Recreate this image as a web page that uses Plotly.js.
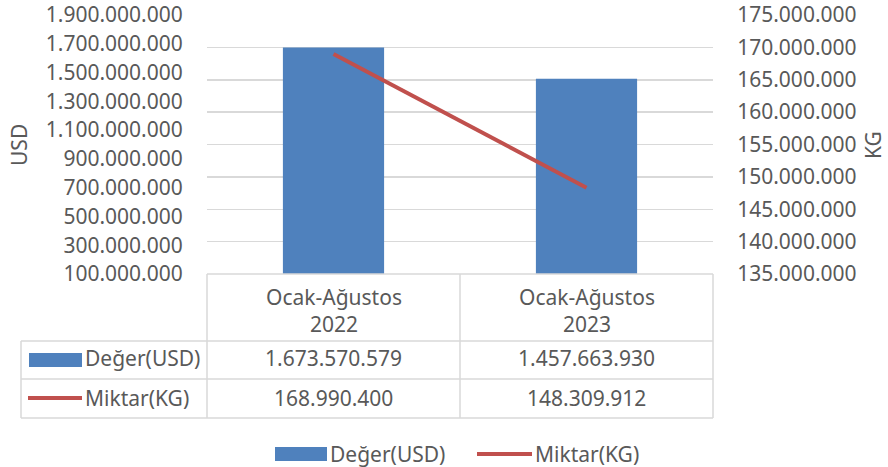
<!DOCTYPE html>
<html><head><meta charset="utf-8">
<script src="https://cdn.plot.ly/plotly-3.0.1.min.js"></script>
<style>html,body{margin:0;padding:0;background:#fff}#chart{width:888px;height:467px}</style>
</head><body><div id="chart"></div>
<script>
// ---- data ----
const categories = ["Ocak-Ağustos 2022", "Ocak-Ağustos 2023"];
const categoryLines = [["Ocak-Ağustos", "2022"], ["Ocak-Ağustos", "2023"]];
const valueUSD = [1673570579, 1457663930];
const amountKG = [168990400, 148309912];
const seriesNames = ["Değer(USD)", "Miktar(KG)"];
const axisTitles = ["USD", "KG"];

// ---- layout helpers (pixels -> paper) ----
const W = 888, H = 467;
const L = 207, R = 713, T = 15, B = 274;
const px = x => (x - L) / (R - L);
const py = y => (B - y) / (B - T);
const fmt = n => String(Math.round(n)).replace(/\B(?=(\d{3})+(?!\d))/g, ".");
const FONT = "'Noto Sans', 'Open Sans', sans-serif";
const FS = 21;
const TXT = "#595959";
const GRID = "#d9d9d9";
const BLUE = "#4f81bd";
const RED = "#c0504d";

const traces = [
  {type: "bar", x: categories, y: valueUSD, name: seriesNames[0], marker: {color: BLUE}, width: 0.4, yaxis: "y", hoverinfo: "none"},
  {type: "scatter", mode: "lines", x: categories, y: amountKG, name: seriesNames[1], line: {color: RED, width: 4}, yaxis: "y2", hoverinfo: "none"}
];

const shapes = [];
const line = (x0, y0, x1, y1) => shapes.push({type: "line", xref: "paper", yref: "paper", x0: px(x0), y0: py(y0), x1: px(x1), y1: py(y1), line: {color: GRID, width: 1.5}, layer: "above"});
// table grid
line(207, 274, 713, 274);
line(21, 341, 713, 341);
line(21, 379, 713, 379);
line(21, 418, 713, 418);
line(21, 341, 21, 418);
line(207, 274, 207, 418);
line(460, 274, 460, 418);
line(713, 274, 713, 418);
// legend keys in table
shapes.push({type: "rect", xref: "paper", yref: "paper", x0: px(29), x1: px(82), y0: py(353), y1: py(367), fillcolor: BLUE, line: {width: 0}});
shapes.push({type: "line", xref: "paper", yref: "paper", x0: px(28), x1: px(82), y0: py(398), y1: py(398), line: {color: RED, width: 4}});
// bottom legend keys
shapes.push({type: "rect", xref: "paper", yref: "paper", x0: px(275), x1: px(327), y0: py(447), y1: py(461), fillcolor: BLUE, line: {width: 0}});
shapes.push({type: "line", xref: "paper", yref: "paper", x0: px(477), x1: px(532), y0: py(454), y1: py(454), line: {color: RED, width: 4}});

const annotations = [];
const ann = (o) => annotations.push(Object.assign({showarrow: false, font: {family: FONT, size: FS, color: TXT}}, o));
// category headers
categories.forEach((c, i) => ann({xref: "x", yref: "paper", x: c, y: py(310), text: categoryLines[i].join("<br>"), xanchor: "center", yanchor: "middle"}));
// row labels
ann({xref: "paper", yref: "paper", x: px(83), y: py(358), text: seriesNames[0], xanchor: "left", yanchor: "middle"});
ann({xref: "paper", yref: "paper", x: px(83), y: py(398), text: seriesNames[1], xanchor: "left", yanchor: "middle"});
// values
categories.forEach((c, i) => {
  ann({xref: "x", yref: "paper", x: c, y: py(358), text: fmt(valueUSD[i]), xanchor: "center", yanchor: "middle"});
  ann({xref: "x", yref: "paper", x: c, y: py(398), text: fmt(amountKG[i]), xanchor: "center", yanchor: "middle"});
});
// bottom legend text
ann({xref: "paper", yref: "paper", x: px(328), y: py(454), text: seriesNames[0], xanchor: "left", yanchor: "middle"});
ann({xref: "paper", yref: "paper", x: px(533), y: py(454), text: seriesNames[1], xanchor: "left", yanchor: "middle"});
// axis titles
ann({xref: "paper", yref: "paper", x: px(19), y: py(145), text: axisTitles[0], textangle: -90, xanchor: "center", yanchor: "middle"});
ann({xref: "paper", yref: "paper", x: px(873), y: py(145), text: axisTitles[1], textangle: -90, xanchor: "center", yanchor: "middle"});

const layout = {
  width: W, height: H,
  margin: {l: L, r: W - R, t: T, b: H - B, pad: 0},
  paper_bgcolor: "#fff", plot_bgcolor: "#fff",
  separators: ",.",
  showlegend: false,
  font: {family: FONT, size: FS, color: TXT},
  xaxis: {type: "category", showticklabels: false, showgrid: false, zeroline: false, showline: false, ticks: "", range: [-0.5, 1.5]},
  yaxis: {range: [1e8, 1.9e9], tick0: 1e8, dtick: 2e8, tickformat: ",d", showgrid: false, zeroline: false, showline: false,
          ticks: "outside", ticklen: 19, tickcolor: "rgba(0,0,0,0)", tickfont: {family: FONT, size: FS, color: TXT}},
  yaxis2: {overlaying: "y", side: "right", range: [135e6, 175e6], tick0: 135e6, dtick: 5e6, tickformat: ",d",
           showgrid: true, gridcolor: GRID, gridwidth: 1.5, zeroline: false, showline: false,
           ticks: "outside", ticklen: 19, tickcolor: "rgba(0,0,0,0)", tickfont: {family: FONT, size: FS, color: TXT}},
  shapes: shapes,
  annotations: annotations
};

Plotly.newPlot("chart", traces, layout, {staticPlot: true, displayModeBar: false});
</script>
</body></html>
